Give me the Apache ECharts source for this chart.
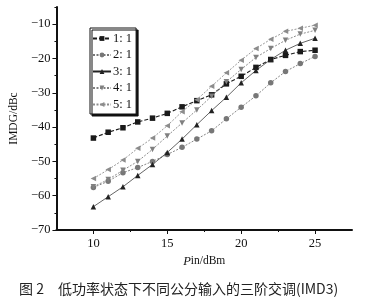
<!DOCTYPE html>
<html><head><meta charset="utf-8">
<script src="https://cdn.jsdelivr.net/npm/echarts@6/dist/echarts.min.js"></script>
<style>html,body{margin:0;padding:0;background:#fff}#c{width:382px;height:303px}</style>
</head><body><div id="c"></div>
<script>
const pin = [10,11,12,13,14,15,16,17,18,19,20,21,22,23,24,25];
const s1 = [-43.2,-41.5,-40.2,-38.5,-37.4,-36.0,-34.1,-32.3,-30.6,-27.4,-25.2,-22.6,-20.3,-19.1,-18.0,-17.6];
const s2 = [-57.6,-55.8,-53.3,-51.8,-50.0,-48.0,-45.9,-43.5,-41.1,-37.6,-34.2,-30.9,-27.1,-23.8,-21.5,-19.4];
const s3 = [-63.2,-60.3,-57.4,-54.1,-50.9,-47.4,-43.5,-39.3,-35.2,-31.3,-27.1,-23.5,-20.3,-17.6,-15.6,-14.1];
const s4 = [-57.4,-55.3,-52.6,-50.0,-46.5,-42.6,-38.8,-35.0,-31.0,-26.8,-23.2,-19.7,-17.1,-14.7,-12.9,-11.8];
const s5 = [-55.0,-52.4,-49.6,-46.2,-43.2,-39.6,-35.5,-32.0,-28.1,-24.2,-20.5,-17.1,-14.4,-12.1,-11.2,-10.3];
const seriesNames = ['1: 1','2: 1','3: 1','4: 1','5: 1'];
const xTicks = [10,15,20,25];
const xMinor = [12.5,17.5,22.5];
const yTicks = [-70,-60,-50,-40,-30,-20,-10];
const yMinor = [-65,-55,-45,-35,-25,-15,-5];
const caption = '图 2　低功率状态下不同公分输入的三阶交调(IMD3)';

const serif = 'Liberation Serif, DejaVu Serif, serif';
const chart = echarts.init(document.getElementById('c'));
function mk(name, data, color, symbol, rot, lineType, lw) {
  return {
    name, type: 'line', data: pin.map((x,i)=>[x,data[i]]),
    symbol, symbolSize: 5.5, symbolRotate: rot,
    lineStyle: {color, width: lw, type: lineType},
    itemStyle: {color},
    emphasis: {disabled: true}, animation: false
  };
}
const axisCommon = {
  axisLine: {show: true, lineStyle: {color: '#111', width: 2}},
  splitLine: {show: false},
};
chart.setOption({
  animation: false,
  grid: {left: 53, right: 30, top: 7, bottom: 73},
  title: {text: caption, left: 14, top: 277,
    textStyle: {fontFamily: 'Noto Sans CJK SC', fontWeight: 'normal', fontSize: 14, color: '#222'}},
  legend: {
    orient: 'vertical', left: 90, top: 28, itemWidth: 18, itemHeight: 6, itemGap: 3.5,
    padding: [4, 4, 3, 2], backgroundColor: '#fff', borderColor: '#111', borderWidth: 1,
    shadowColor: '#111', shadowBlur: 0, shadowOffsetX: 2, shadowOffsetY: 2,
    textStyle: {fontFamily: serif, fontSize: 12.5, color: '#111', padding: [0,0,0,-3]},
    data: seriesNames
  },
  xAxis: [{
    type: 'value', min: 7.5, max: 27.5, ...axisCommon,
    name: '{i|P}in/dBm', nameLocation: 'middle', nameGap: 22,
    nameTextStyle: {fontFamily: serif, fontSize: 11.5, color: '#111',
      rich: {i: {fontStyle: 'italic', fontFamily: serif, fontSize: 12.5, color: '#111'}}},
    axisTick: {show: true, length: 4, customValues: xTicks, lineStyle: {color: '#111', width: 1}},
    axisLabel: {customValues: xTicks, fontFamily: serif, fontSize: 12.5, color: '#111', margin: 7}
  }, {
    type: 'value', min: 7.5, max: 27.5, position: 'bottom',
    axisLine: {show: false}, splitLine: {show: false},
    axisTick: {show: true, length: 2, customValues: xMinor, lineStyle: {color: '#111', width: 1}},
    axisLabel: {show: false}
  }],
  yAxis: [{
    type: 'value', min: -70, max: -5, ...axisCommon,
    name: 'IMDG/dBc', nameLocation: 'middle', nameGap: 36,
    nameTextStyle: {fontFamily: serif, fontSize: 11.5, color: '#111'},
    axisTick: {show: true, length: 4, customValues: yTicks, lineStyle: {color: '#111', width: 1}},
    axisLabel: {customValues: yTicks, fontFamily: serif, fontSize: 12.5, color: '#111', margin: 6,
      formatter: v => String(v).replace('-', '\u2212')}
  }, {
    type: 'value', min: -70, max: -5, position: 'left',
    axisLine: {show: false}, splitLine: {show: false},
    axisTick: {show: true, length: 2, customValues: yMinor, lineStyle: {color: '#111', width: 1}},
    axisLabel: {show: false}
  }],
  series: [
    mk(seriesNames[0], s1, '#1a1a1a', 'rect', 0, [4,2], 1.1),
    mk(seriesNames[1], s2, '#777', 'circle', 0, [2,1.5], 0.9),
    mk(seriesNames[2], s3, '#222', 'triangle', 0, 'solid', 0.7),
    mk(seriesNames[3], s4, '#808080', 'triangle', 180, [2,1.5], 0.9),
    mk(seriesNames[4], s5, '#8c8c8c', 'triangle', 90, [2,1.5], 0.9)
  ]
});
</script></body></html>
